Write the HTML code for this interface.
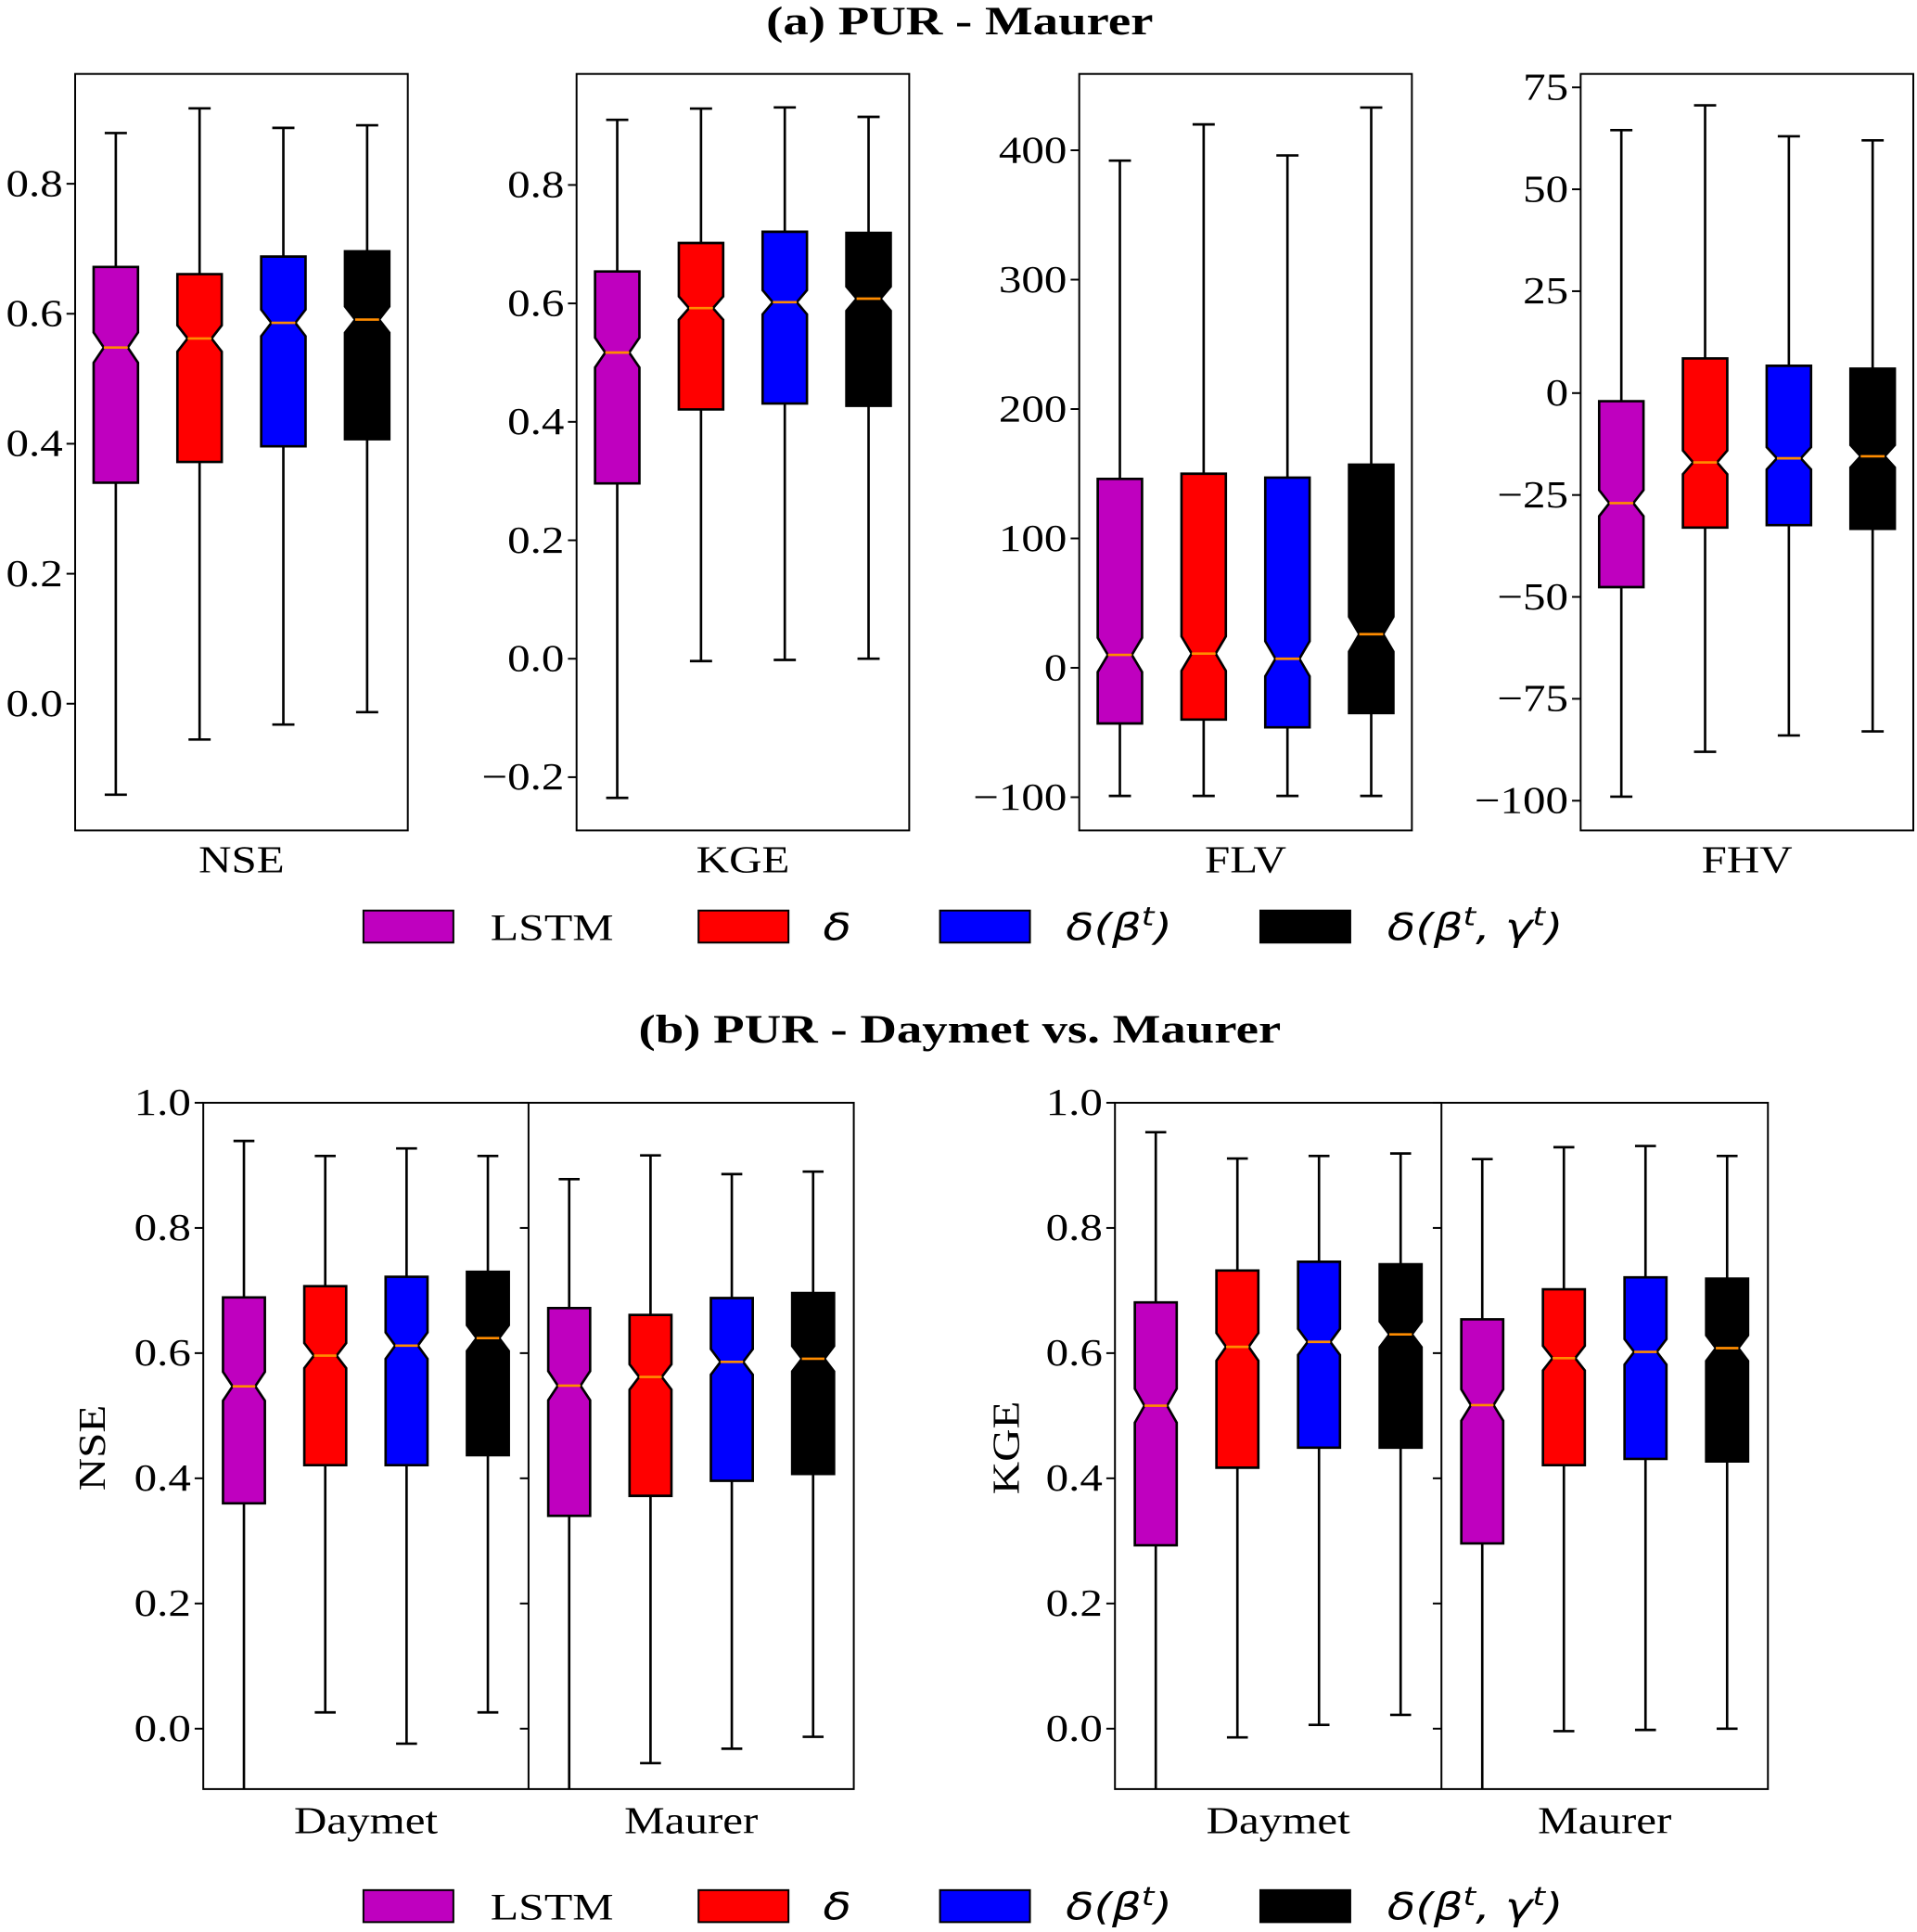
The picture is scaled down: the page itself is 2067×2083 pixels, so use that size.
<!DOCTYPE html>
<html><head><meta charset="utf-8"><style>
html,body{margin:0;padding:0;background:#fff}
svg{display:block}
text{font-family:"Liberation Serif",serif;fill:#000}
.m{font-family:"DejaVu Sans",sans-serif;font-style:italic}
</style></head><body>
<svg id="fig" width="2067" height="2083" viewBox="0 0 1556 1568" preserveAspectRatio="none" xmlns="http://www.w3.org/2000/svg">
<text transform="translate(779,28) scale(1.25,1)" font-size="33" font-weight="bold" text-anchor="middle">(a) PUR - Maurer</text>
<text transform="translate(779,846) scale(1.25,1)" font-size="33" font-weight="bold" text-anchor="middle">(b) PUR - Daymet vs. Maurer</text>
</svg>
<script>
const seriesNames = ["LSTM","δ","δ(βt)","δ(βt,γt)"];
const colors = ["#bf00bf","#ff0000","#0000ff","#000000"];
// [whiskerLow, q1, median, q3, whiskerHigh]
const maurerNSE = [[-0.14,0.34,0.548,0.672,0.878],[-0.055,0.372,0.562,0.661,0.916],[-0.032,0.396,0.586,0.688,0.886],[-0.013,0.407,0.591,0.696,0.89]];
const maurerKGE = [[-0.235,0.296,0.517,0.654,0.91],[-0.004,0.421,0.592,0.702,0.929],[-0.002,0.431,0.602,0.721,0.931],[0,0.427,0.608,0.719,0.915]];
const maurerFLV = [[-99,-43,10,146,392],[-99,-40,11,150,420],[-99,-46,7,147,396],[-99,-35,26,157,433]];
const maurerFHV = [[-99,-47.6,-27,-2,64.5],[-88,-33,-17,8.5,70.6],[-84,-32.4,-16,6.7,63],[-83,-33.3,-15.5,6,62]];
const daymetNSE = [[-0.2,0.36,0.547,0.689,0.939],[0.026,0.421,0.596,0.707,0.915],[-0.024,0.421,0.612,0.722,0.927],[0.026,0.437,0.624,0.73,0.915]];
const daymetKGE = [[-0.2,0.293,0.516,0.681,0.953],[-0.014,0.417,0.61,0.732,0.911],[0.006,0.449,0.618,0.746,0.915],[0.022,0.449,0.63,0.742,0.919]];
const ticksNSE = [0,0.2,0.4,0.6,0.8];
const ticksKGE = [-0.2,0,0.2,0.4,0.6,0.8];
const ticksFLV = [-100,0,100,200,300,400];
const ticksFHV = [-100,-75,-50,-25,0,25,50,75];
const ticksB = [0,0.2,0.4,0.6,0.8,1.0];
const groupLabels = ["Daymet","Maurer"];

const svg = document.getElementById('fig');
const NS = "http://www.w3.org/2000/svg";
function mk(tag, attrs, parent){const e=document.createElementNS(NS,tag);for(const k in attrs)e.setAttribute(k,attrs[k]);(parent||svg).appendChild(e);return e;}
function txt(parent,x,y,size,anchor,extra,sx){return mk('text',{transform:`translate(${x},${y}) ${extra||''} scale(${sx||1.19},1)`,'font-size':size,'text-anchor':anchor},parent);}
function fmt(v,dec){return (v<0?"\u2212":"")+Math.abs(v).toFixed(dec);}

function drawBoxes(g, data, xs, y, bw, clipId){
  data.forEach((d,i)=>{
    const x=xs[i], [lo,q1,md,q3,hi]=d;
    const bg=mk('g',{'clip-path':'url(#'+clipId+')'},g);
    
    
    const nh=0.07*(q3-q1);
    const h=bw/2, n=bw*0.27;
    mk('line',{x1:x,x2:x,y1:y(q1),y2:y(lo),stroke:'#000','stroke-width':2},bg);
    mk('line',{x1:x,x2:x,y1:y(q3),y2:y(hi),stroke:'#000','stroke-width':2},bg);
    mk('line',{x1:x-bw/4,x2:x+bw/4,y1:y(lo),y2:y(lo),stroke:'#000','stroke-width':2},bg);
    mk('line',{x1:x-bw/4,x2:x+bw/4,y1:y(hi),y2:y(hi),stroke:'#000','stroke-width':2},bg);
    const p=[[x-h,y(q1)],[x-h,y(md-nh)],[x-n,y(md)],[x-h,y(md+nh)],[x-h,y(q3)],[x+h,y(q3)],[x+h,y(md+nh)],[x+n,y(md)],[x+h,y(md-nh)],[x+h,y(q1)]];
    mk('polygon',{points:p.map(a=>a.join(',')).join(' '),fill:colors[i],stroke:'#000','stroke-width':2},bg);
    mk('line',{x1:x-n,x2:x+n,y1:y(md),y2:y(md),stroke:'#ff8c00','stroke-width':2},bg);
  });
}
let clipN=0;
function panel(x0,x1,y0,y1,vmin,vmax,ticks,dec,name){
  const g=mk('g',{});
  
  
  const y=v=>y1-(v-vmin)/(vmax-vmin)*(y1-y0);
  const id='c'+(clipN++);
  const cp=mk('clipPath',{id:id},g); mk('rect',{x:x0,y:y0,width:x1-x0,height:y1-y0},cp);
  ticks.forEach(t=>{
    mk('line',{x1:x0-7,x2:x0,y1:y(t),y2:y(t),stroke:'#000','stroke-width':1.5},g);
    const tx=txt(g,x0-10,y(t)+10,31,'end');
    tx.textContent=fmt(t,dec);
    
    
  });
  mk('rect',{x:x0,y:y0,width:x1-x0,height:y1-y0,fill:'none',stroke:'#000','stroke-width':1.5},g);
  return {g,y,id};
}
function xlabel(g,x,yy,t){const e=txt(g,x,yy,31,'middle');e.textContent=t;}

// top row
const tops=[[61,331,-0.195,0.969,ticksNSE,1,maurerNSE,"NSE"],[468,738,-0.29,0.9875,ticksKGE,1,maurerKGE,"KGE"],[876,1146,-125.7,459,ticksFLV,0,maurerFLV,"FLV"],[1283,1553,-107.3,78.3,ticksFHV,0,maurerFHV,"FHV"]];
tops.forEach(p=>{
  const P=panel(p[0],p[1],60,674,p[2],p[3],p[4],p[5],'panel-'+p[7].toLowerCase());
  const xs=[0,1,2,3].map(i=>p[0]+33+i*68);
  drawBoxes(P.g,p[6],xs,P.y,36,P.id);
  xlabel(P.g,(p[0]+p[1])/2,708,p[7]);
});
// bottom row
[[165,693,daymetNSE,maurerNSE,"NSE",75],[905,1435,daymetKGE,maurerKGE,"KGE",817]].forEach(p=>{
  const P=panel(p[0],p[1],895,1452,-0.0965,1.0,ticksB,1,'panel-b-'+p[4].toLowerCase());
  const mid=(p[0]+p[1])/2;
  mk('line',{x1:mid,x2:mid,y1:895,y2:1452,stroke:'#000','stroke-width':1.5},P.g);
  ticksB.forEach(t=>mk('line',{x1:mid-7,x2:mid,y1:P.y(t),y2:P.y(t),stroke:'#000','stroke-width':1.5},P.g));
  const sw=(p[1]-p[0])/8;
  drawBoxes(P.g,p[2],[0,1,2,3].map(i=>p[0]+sw*(i+0.5)),P.y,34,P.id);
  drawBoxes(P.g,p[3],[4,5,6,7].map(i=>p[0]+sw*(i+0.5)),P.y,34,P.id);
  xlabel(P.g,p[0]+sw*2,1488,groupLabels[0]);
  xlabel(P.g,p[0]+sw*6,1488,groupLabels[1]);
  const yl=txt(P.g,p[5]+10,1175,31,'middle','rotate(-90)');
  yl.textContent=p[4];
  
  
});
// legends
function legend(cy){
  const g=mk('g',{});
  
  
  const rx=[295,567,763,1023], lx=[398,668,865,1126];
  const labels=['LSTM','<tspan class="m">δ</tspan>','<tspan class="m">δ(β<tspan dy="-12" font-size="21">t</tspan><tspan dy="12">)</tspan></tspan>','<tspan class="m">δ(β<tspan dy="-12" font-size="21">t</tspan><tspan dy="12">, γ</tspan><tspan dy="-12" font-size="21">t</tspan><tspan dy="12">)</tspan></tspan>'];
  for(let i=0;i<4;i++){
    const r=mk('rect',{x:rx[i],y:cy-13,width:73,height:26,fill:colors[i],stroke:'#000','stroke-width':1.5},g);
    
    
    const t=txt(g,lx[i],cy+11,30,'start','',1.25);
    t.innerHTML=labels[i];
    
    
  }
}
legend(752); legend(1547);
</script>
</body></html>
